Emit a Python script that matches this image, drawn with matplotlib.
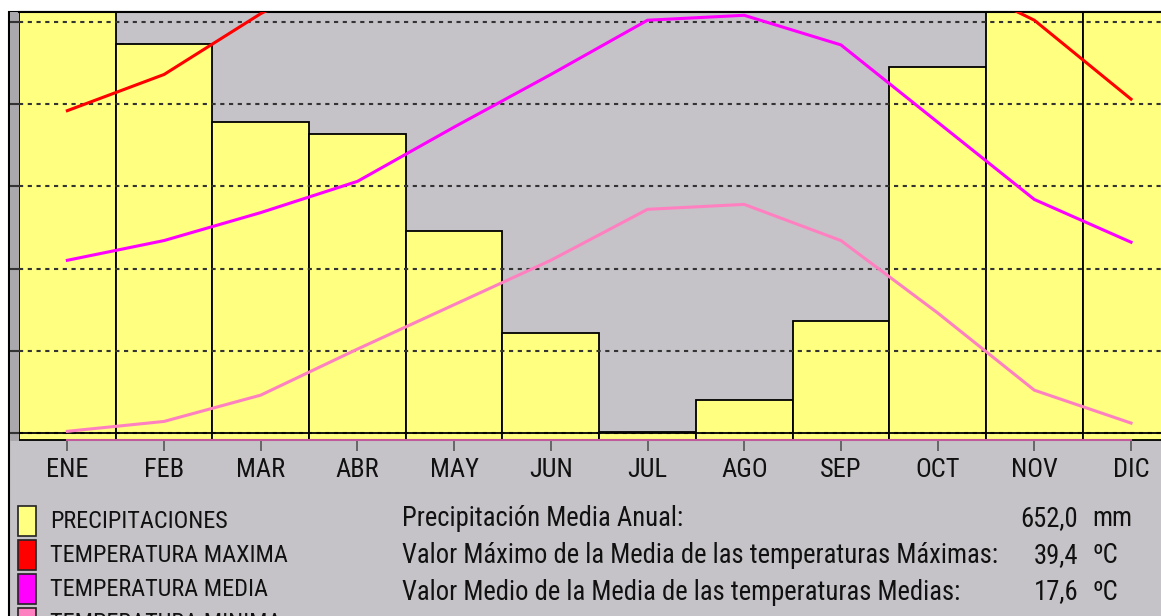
import matplotlib
matplotlib.use('Agg')
import numpy as np
import matplotlib.pyplot as plt
from matplotlib.patches import Rectangle

# climograma - datos mensuales
meses = ['ENE', 'FEB', 'MAR', 'ABR', 'MAY', 'JUN',
         'JUL', 'AGO', 'SEP', 'OCT', 'NOV', 'DIC']
precip = [138.5, 48.2, 38.7, 37.2, 25.4, 13.0, 1.0, 4.9, 14.5, 45.4, 150.2, 135.0]  # mm
t_max = [19.6, 21.8, 25.5, 28.5, 32.5, 37.0, 39.4, 39.0, 34.5, 28.0, 25.1, 20.3]
t_med = [10.5, 11.7, 13.4, 15.3, 18.6, 21.8, 25.1, 25.4, 23.6, 18.9, 14.2, 11.6]
t_min = [0.1, 0.7, 2.3, 5.1, 7.8, 10.5, 13.6, 13.9, 11.7, 7.3, 2.6, 0.6]

leyenda = ['PRECIPITACIONES', 'TEMPERATURA MAXIMA', 'TEMPERATURA MEDIA', 'TEMPERATURA MINIMA']
colores = ['#FFFF80', '#FF0000', '#FF00FF', '#FF80C0']
resumen = ['Precipitación Media Anual:',
           'Valor Máximo de la Media de las temperaturas Máximas:',
           'Valor Medio de la Media de las temperaturas Medias:']
resumen_val = ['652,0', '39,4', '17,6']
resumen_uni = ['mm', 'ºC', 'ºC']

GRIS = '#C5C3C7'
FUENTE = ['Roboto Condensed', 'DejaVu Sans']
TAM = 18
W, H = 1161, 616

fig = plt.figure(figsize=(W / 100, H / 100), dpi=100)
fig.patch.set_facecolor('white')

# fondo gris con borde negro arriba / izquierda
fig.patches.append(Rectangle((9 / W, -0.1), 1.2, 1 - 12 / H + 0.1, transform=fig.transFigure,
                             facecolor=GRIS, edgecolor='black', lw=1.5, zorder=-5))
fig.patches.append(Rectangle((10 / W, 1 - 441 / H), 9 / W, 429 / H, transform=fig.transFigure,
                             facecolor='#AAA8AC', edgecolor='none', zorder=-4))

ax = fig.add_axes([19 / W, 1 - 441 / H, (W - 19) / W, 429 / H])
ax.set_facecolor(GRIS)
x = np.arange(len(meses))
ax.bar(x, precip, width=1.0, color=colores[0], edgecolor='black', lw=1.3, zorder=2)
ax.plot([x[0], x[-1]], [0, 0], color='#C05A9A', lw=1.5, zorder=3, clip_on=False)
ax.set_xlim(-0.5, 11.31)
ax.set_ylim(-0.12, 52.07)
ax.set_yticks([])
for s in ['left', 'right', 'bottom']:
    ax.spines[s].set_visible(False)
ax.spines['top'].set_color('black')
ax.spines['top'].set_linewidth(1.5)
ax.set_xticks(x)
ax.set_xticklabels(meses, fontfamily=FUENTE, fontsize=TAM + 1, color='#111111')
ax.tick_params(axis='x', length=7.5, width=1.2, color='#555555', pad=5)

# temperaturas
at = ax.twinx()
at.set_ylim(-0.49, 25.6)
at.set_yticks([0, 5, 10, 15, 20, 25])
at.yaxis.set_ticks_position('left')
at.tick_params(axis='y', length=6.5, width=1.5, color='#333333', labelleft=False, labelright=False)
at.grid(axis='y', color='#333333', lw=1.5, linestyle=(0, (2, 2.2)), zorder=4)
at.axhline(0, color='black', lw=1.3)
for s in at.spines.values():
    s.set_visible(False)
at.plot(x, t_min, color=colores[3], lw=2.2, zorder=5)
at.plot(x, t_med, color=colores[2], lw=2.2, zorder=5)
at.plot(x, t_max, color=colores[1], lw=2.2, zorder=5)

# leyenda
for i, (txt, c) in enumerate(zip(leyenda, colores)):
    y0 = 506 + 34 * i
    fig.patches.append(Rectangle((18 / W, 1 - (y0 + 30) / H), 18 / W, 30 / H, transform=fig.transFigure,
                                 facecolor=c, edgecolor='#222222', lw=1.2))
    fig.text(50 / W, 1 - (y0 + 16) / H, txt, fontfamily=FUENTE, fontsize=TAM - 0.5,
             va='center', ha='left', color='#111111')

for i in range(3):
    yc = 1 - (519 + 36.5 * i) / H
    fig.text(402 / W, yc, resumen[i], fontfamily=FUENTE, fontsize=TAM + 1.2, va='center', ha='left', color='#111111')
    fig.text(1078 / W, yc, resumen_val[i], fontfamily=FUENTE, fontsize=TAM + 1.2, va='center', ha='right',
             color='#111111')
    fig.text(1092 / W, yc, resumen_uni[i], fontfamily=FUENTE, fontsize=TAM + 1.2, va='center', ha='left',
             color='#111111')

fig.savefig('out.png', dpi=100, facecolor='white')
